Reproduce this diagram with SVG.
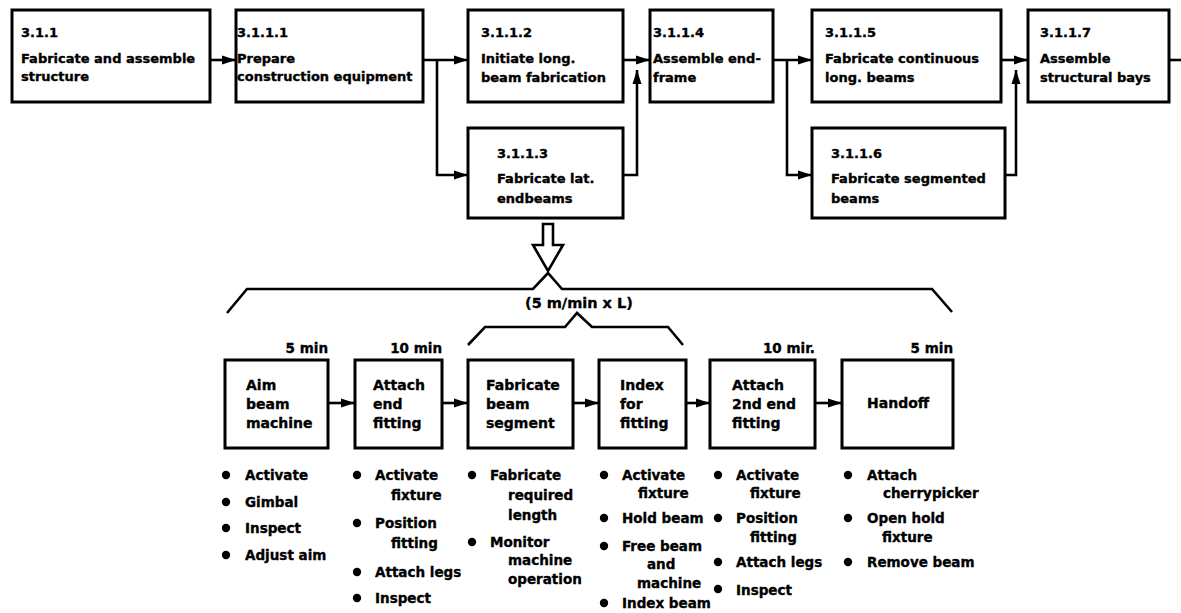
<svg xmlns="http://www.w3.org/2000/svg" width="1181" height="613" viewBox="0 0 1181 613">
<style>
.box{fill:#fff;stroke:#000;stroke-width:3}
.ln{fill:none;stroke:#000;stroke-width:2.6}
.t,.b,.l{font-family:"DejaVu Sans","Liberation Sans",sans-serif;font-weight:bold;fill:#000;stroke:#000;stroke-width:0.35}
.t{font-size:13px}
.b{font-size:14px}
.l{font-size:13.5px}
.dot{fill:#000}
</style>
<defs>
<marker id="ah" markerUnits="userSpaceOnUse" markerWidth="14" markerHeight="10" viewBox="0 0 14 10" refX="14" refY="5" orient="auto">
<path d="M0,0.5 L14,5 L0,9.5 z" fill="#000"/>
</marker>
</defs>
<rect width="1181" height="613" fill="#fff"/>

<g id="connectors">
<path class="ln" d="M210,60 H236" marker-end="url(#ah)"/>
<path class="ln" d="M423,60 H468" marker-end="url(#ah)"/>
<path class="ln" d="M437,60 V175 H468" marker-end="url(#ah)"/>
<path class="ln" d="M623,60 H650" marker-end="url(#ah)"/>
<path class="ln" d="M623,175 H637 V70" marker-end="url(#ah)"/>
<path class="ln" d="M773,60 H812" marker-end="url(#ah)"/>
<path class="ln" d="M787,60 V175 H812" marker-end="url(#ah)"/>
<path class="ln" d="M1001,60 H1028" marker-end="url(#ah)"/>
<path class="ln" d="M1005,175 H1016 V70" marker-end="url(#ah)"/>
<path class="ln" d="M1169,60 H1181"/>
<path class="ln" d="M543,224 H553 V245 H563 L548,271 L533,245 H543 Z" style="fill:#fff"/>
<polyline class="ln" points="227,313 247,289 533,289 548,273 562,289 932,289 952,312"/>
<polyline class="ln" points="468,345 485,327 565,327 577,313 592,327 668,327 683,345"/>
<path class="ln" d="M328,403 H355" marker-end="url(#ah)"/>
<path class="ln" d="M442,403 H468" marker-end="url(#ah)"/>
<path class="ln" d="M573,403 H599" marker-end="url(#ah)"/>
<path class="ln" d="M686,403 H710" marker-end="url(#ah)"/>
<path class="ln" d="M815,403 H842" marker-end="url(#ah)"/>
</g>

<g id="n311">
<rect class="box" x="12" y="10" width="198" height="92"/>
<text class="t" x="21" y="37">3.1.1</text>
<text class="t" x="21" y="63">Fabricate and assemble</text>
<text class="t" x="21" y="81">structure</text>
</g>
<g id="n3111">
<rect class="box" x="236" y="10" width="187" height="92"/>
<text class="t" x="237" y="37">3.1.1.1</text>
<text class="t" x="237" y="63">Prepare</text>
<text class="t" x="237" y="81">construction equipment</text>
</g>
<g id="n3112">
<rect class="box" x="468" y="10" width="155" height="92"/>
<text class="t" x="481" y="37">3.1.1.2</text>
<text class="t" x="481" y="63">Initiate long.</text>
<text class="t" x="481" y="82">beam fabrication</text>
</g>
<g id="n3113">
<rect class="box" x="468" y="128" width="155" height="90"/>
<text class="t" x="497" y="158">3.1.1.3</text>
<text class="t" x="497" y="183">Fabricate lat.</text>
<text class="t" x="497" y="203">endbeams</text>
</g>
<g id="n3114">
<rect class="box" x="650" y="10" width="123" height="92"/>
<text class="t" x="653" y="37">3.1.1.4</text>
<text class="t" x="653" y="63">Assemble end-</text>
<text class="t" x="653" y="82">frame</text>
</g>
<g id="n3115">
<rect class="box" x="812" y="10" width="189" height="92"/>
<text class="t" x="825" y="37">3.1.1.5</text>
<text class="t" x="825" y="63">Fabricate continuous</text>
<text class="t" x="825" y="82">long. beams</text>
</g>
<g id="n3116">
<rect class="box" x="812" y="128" width="193" height="90"/>
<text class="t" x="831" y="158">3.1.1.6</text>
<text class="t" x="831" y="183">Fabricate segmented</text>
<text class="t" x="831" y="203">beams</text>
</g>
<g id="n3117">
<rect class="box" x="1028" y="10" width="141" height="92"/>
<text class="t" x="1040" y="37">3.1.1.7</text>
<text class="t" x="1040" y="63">Assemble</text>
<text class="t" x="1040" y="82">structural bays</text>
</g>

<g id="rate">
<text class="l" x="525" y="308" style="font-size:14.5px">(5 m/min x L)</text>
</g>

<g id="s1">
<text class="l" x="328" y="353" text-anchor="end">5 min</text>
<rect class="box" x="225" y="360" width="103" height="88"/>
<text class="b" x="246" y="390">Aim</text>
<text class="b" x="246" y="409">beam</text>
<text class="b" x="246" y="428">machine</text>
<circle class="dot" cx="226" cy="475" r="4.2"/>
<text class="l" x="245" y="480">Activate</text>
<circle class="dot" cx="226" cy="502" r="4.2"/>
<text class="l" x="245" y="507">Gimbal</text>
<circle class="dot" cx="226" cy="528" r="4.2"/>
<text class="l" x="245" y="533">Inspect</text>
<circle class="dot" cx="226" cy="555" r="4.2"/>
<text class="l" x="245" y="560">Adjust aim</text>
</g>
<g id="s2">
<text class="l" x="442" y="353" text-anchor="end">10 min</text>
<rect class="box" x="355" y="360" width="87" height="88"/>
<text class="b" x="373" y="390">Attach</text>
<text class="b" x="373" y="409">end</text>
<text class="b" x="373" y="428">fitting</text>
<circle class="dot" cx="357" cy="475" r="4.2"/>
<text class="l" x="375" y="480">Activate</text>
<text class="l" x="391" y="500">fixture</text>
<circle class="dot" cx="357" cy="523" r="4.2"/>
<text class="l" x="375" y="528">Position</text>
<text class="l" x="391" y="548">fitting</text>
<circle class="dot" cx="357" cy="572" r="4.2"/>
<text class="l" x="375" y="577">Attach legs</text>
<circle class="dot" cx="357" cy="598" r="4.2"/>
<text class="l" x="375" y="603">Inspect</text>
</g>
<g id="s3">
<rect class="box" x="468" y="360" width="105" height="88"/>
<text class="b" x="486" y="390">Fabricate</text>
<text class="b" x="486" y="409">beam</text>
<text class="b" x="486" y="428">segment</text>
<circle class="dot" cx="472" cy="475" r="4.2"/>
<text class="l" x="490" y="480">Fabricate</text>
<text class="l" x="508" y="500">required</text>
<text class="l" x="508" y="520">length</text>
<circle class="dot" cx="472" cy="542" r="4.2"/>
<text class="l" x="490" y="547">Monitor</text>
<text class="l" x="508" y="565">machine</text>
<text class="l" x="508" y="584">operation</text>
</g>
<g id="s4">
<rect class="box" x="599" y="360" width="87" height="88"/>
<text class="b" x="620" y="390">Index</text>
<text class="b" x="620" y="409">for</text>
<text class="b" x="620" y="428">fitting</text>
<circle class="dot" cx="604" cy="475" r="4.2"/>
<text class="l" x="622" y="480">Activate</text>
<text class="l" x="638" y="498">fixture</text>
<circle class="dot" cx="604" cy="518" r="4.2"/>
<text class="l" x="622" y="523">Hold beam</text>
<circle class="dot" cx="604" cy="546" r="4.2"/>
<text class="l" x="622" y="551">Free beam</text>
<text class="l" x="647" y="569">and</text>
<text class="l" x="637" y="588">machine</text>
<circle class="dot" cx="604" cy="603" r="4.2"/>
<text class="l" x="622" y="608">Index beam</text>
</g>
<g id="s5">
<text class="l" x="815" y="353" text-anchor="end">10 mir.</text>
<rect class="box" x="710" y="360" width="105" height="88"/>
<text class="b" x="732" y="390">Attach</text>
<text class="b" x="732" y="409">2nd end</text>
<text class="b" x="732" y="428">fitting</text>
<circle class="dot" cx="718" cy="475" r="4.2"/>
<text class="l" x="736" y="480">Activate</text>
<text class="l" x="750" y="498">fixture</text>
<circle class="dot" cx="718" cy="518" r="4.2"/>
<text class="l" x="736" y="523">Position</text>
<text class="l" x="750" y="542">fitting</text>
<circle class="dot" cx="718" cy="562" r="4.2"/>
<text class="l" x="736" y="567">Attach legs</text>
<circle class="dot" cx="718" cy="589" r="4.2"/>
<text class="l" x="736" y="595">Inspect</text>
</g>
<g id="s6">
<text class="l" x="953" y="353" text-anchor="end">5 min</text>
<rect class="box" x="842" y="360" width="111" height="88"/>
<text class="b" x="867" y="408">Handoff</text>
<circle class="dot" cx="848" cy="475" r="4.2"/>
<text class="l" x="867" y="480">Attach</text>
<text class="l" x="883" y="498">cherrypicker</text>
<circle class="dot" cx="848" cy="518" r="4.2"/>
<text class="l" x="867" y="523">Open hold</text>
<text class="l" x="882" y="542">fixture</text>
<circle class="dot" cx="848" cy="562" r="4.2"/>
<text class="l" x="867" y="567">Remove beam</text>
</g>
</svg>
